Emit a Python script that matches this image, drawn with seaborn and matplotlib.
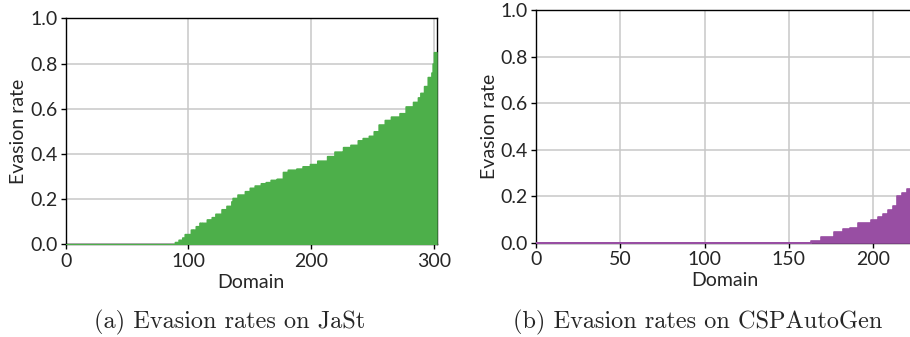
import numpy as np
import pandas as pd
import matplotlib
matplotlib.use("Agg")
import matplotlib.pyplot as plt
import seaborn as sns

# ---- data (run-length encoded sorted evasion rates per domain) ----
jast_rates = [0.0, 0.01, 0.02, 0.03, 0.045, 0.065, 0.08, 0.095, 0.11, 0.12,
              0.135, 0.155, 0.17, 0.19, 0.205, 0.22, 0.235, 0.25, 0.26, 0.27,
              0.275, 0.285, 0.29, 0.32, 0.33, 0.335, 0.345, 0.355, 0.37, 0.39,
              0.41, 0.43, 0.44, 0.46, 0.47, 0.48, 0.50, 0.53, 0.55, 0.565,
              0.58, 0.61, 0.63, 0.65, 0.67, 0.70, 0.74, 0.76, 0.80, 0.85]
jast_counts = [89, 3, 3, 2, 5, 4, 3, 6, 4, 3,
               5, 4, 4, 1, 4, 6, 4, 4, 5, 4,
               4, 5, 5, 4, 7, 5, 6, 6, 8, 6,
               7, 6, 6, 4, 5, 4, 4, 5, 5, 7,
               5, 6, 4, 2, 3, 3, 3, 1, 1, 2]

csp_rates = [0.0, 0.01, 0.025, 0.045, 0.06, 0.065, 0.085, 0.10, 0.11, 0.125,
             0.14, 0.16, 0.20, 0.215, 0.23]
csp_counts = [163, 6, 8, 5, 4, 5, 8, 4, 3, 3, 3, 2, 3, 3, 4]

x_ticks_a = [0, 100, 200, 300]
x_ticks_b = [0, 50, 100, 150, 200]
y_ticks = [0.0, 0.2, 0.4, 0.6, 0.8, 1.0]
captions = ["(a) Evasion rates on JaSt", "(b) Evasion rates on CSPAutoGen"]

sns.set_style("whitegrid")
plt.rcParams["font.family"] = ["Lato", "DejaVu Sans"]

fig = plt.figure(figsize=(9.1, 3.37), dpi=100)
ax1 = fig.add_axes([0.0722, 0.275, 0.408, 0.6706])
ax2 = fig.add_axes([0.589, 0.279, 0.415, 0.6914])


def draw(ax, rates, counts, color, xticks, xpad):
    vals = np.repeat(rates, counts)
    n = len(vals)
    df = pd.DataFrame({"domain": np.arange(n) + 0.5, "rate": vals})
    sns.histplot(data=df, x="domain", weights="rate", bins=list(range(n + 1)),
                 element="step", fill=True, color=color, alpha=1.0,
                 linewidth=1.2, edgecolor=color, ax=ax, zorder=3)
    ax.set_xlim(0, n + xpad)
    ax.set_ylim(0, 1.0)
    ax.set_xticks(xticks)
    ax.set_yticks(y_ticks)
    ax.set_yticklabels([f"{v:.1f}" for v in y_ticks])
    ax.set_xlabel("Domain", fontsize=14, labelpad=3)
    ax.set_ylabel("Evasion rate", fontsize=14, labelpad=2)
    ax.tick_params(axis="both", labelsize=14, length=3.5, width=1,
                   direction="out", color="black", pad=2.5,
                   bottom=True, left=True)
    ax.grid(True, color="#c8c8c8", linewidth=1.1)
    ax.set_axisbelow(True)
    for sp in ax.spines.values():
        sp.set_color("black")
        sp.set_linewidth(1.0)
        sp.set_zorder(2.5)


draw(ax1, jast_rates, jast_counts, "#4daf4a", x_ticks_a, 0.5)
draw(ax2, csp_rates, csp_counts, "#984ea3", x_ticks_b, 0.0)

fig.text(230 / 910, 1 - 322 / 337, captions[0], family="cmr10", fontsize=17.5,
         ha="center", va="center")
fig.text(698 / 910, 1 - 322 / 337, captions[1], family="cmr10", fontsize=17.5,
         ha="center", va="center")

fig.savefig("out.png", dpi=100)
